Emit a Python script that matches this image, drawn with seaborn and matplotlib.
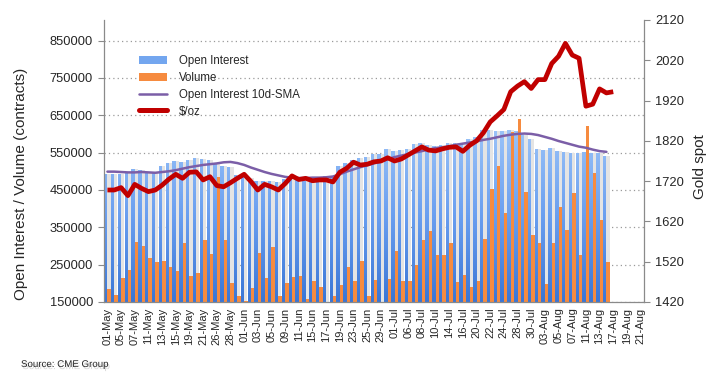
import numpy as np
import pandas as pd
import matplotlib
matplotlib.use("Agg")
import matplotlib.pyplot as plt
import seaborn as sns
from matplotlib.path import Path
from matplotlib.patches import Patch, Rectangle
from matplotlib.lines import Line2D
from matplotlib.colors import LinearSegmentedColormap
import matplotlib.patheffects as pe

# ---------------- data ----------------
dates = [
    "01-May", "04-May", "05-May", "06-May", "07-May", "08-May", "11-May", "12-May", "13-May", "14-May",
    "15-May", "18-May", "19-May", "20-May", "21-May", "22-May", "26-May", "27-May", "28-May", "29-May",
    "01-Jun", "02-Jun", "03-Jun", "04-Jun", "05-Jun", "08-Jun", "09-Jun", "10-Jun", "11-Jun", "12-Jun",
    "15-Jun", "16-Jun", "17-Jun", "18-Jun", "19-Jun", "22-Jun", "23-Jun", "24-Jun", "25-Jun", "26-Jun",
    "29-Jun", "30-Jun", "01-Jul", "02-Jul", "06-Jul", "07-Jul", "08-Jul", "09-Jul", "10-Jul", "13-Jul",
    "14-Jul", "15-Jul", "16-Jul", "17-Jul", "20-Jul", "21-Jul", "22-Jul", "23-Jul", "24-Jul", "27-Jul",
    "28-Jul", "29-Jul", "30-Jul", "31-Jul", "03-Aug", "04-Aug", "05-Aug", "06-Aug", "07-Aug", "10-Aug",
    "11-Aug", "12-Aug", "13-Aug", "14-Aug", "17-Aug", "18-Aug", "19-Aug", "20-Aug", "21-Aug",
]

open_interest = [
    494000, 493000, 493000, 495000, 506000, 504000, 497000, 497000, 513000, 522000,
    528000, 526000, 530000, 536000, 533000, 530000, 519000, 513000, 511000, 491000,
    488000, 482000, 475000, 473000, 473000, 471000, 479000, 479000, 477000, 475000,
    477000, 486000, 488000, 484000, 514000, 522000, 529000, 536000, 538000, 546000,
    546000, 559000, 554000, 556000, 559000, 572000, 576000, 570000, 567000, 569000,
    577000, 577000, 577000, 586000, 591000, 611000, 611000, 608000, 608000, 611000,
    608000, 597000, 586000, 560000, 557000, 563000, 555000, 552000, 548000, 549000,
    551000, 548000, 548000, 541000,
]

volume = [
    184000, 169000, 214000, 235000, 310000, 300000, 267000, 257000, 259000, 244000,
    232000, 308000, 220000, 227000, 316000, 278000, 486000, 316000, 200000, 166000,
    154000, 187000, 281000, 214000, 297000, 166000, 201000, 216000, 220000, 159000,
    205000, 189000, 145000, 165000, 196000, 243000, 205000, 259000, 165000, 210000,
    145000, 212000, 287000, 205000, 207000, 250000, 316000, 341000, 275000, 275000,
    307000, 203000, 221000, 189000, 205000, 319000, 453000, 515000, 387000, 606000,
    640000, 445000, 330000, 309000, 199000, 307000, 405000, 344000, 442000, 275000,
    621000, 496000, 370000, 258000,
]

oi_sma_10d = [
    499000, 499000, 498000, 497000, 497000, 498000, 497000, 496000, 498000, 500000,
    503000, 507000, 511000, 514000, 517000, 519000, 521000, 524000, 525000, 522000,
    517000, 510000, 504000, 498000, 493000, 489000, 485000, 483000, 482000, 482000,
    483000, 483000, 484000, 486000, 492000, 499000, 505000, 511000, 516000, 521000,
    526000, 532000, 538000, 542000, 546000, 550000, 554000, 558000, 562000, 564000,
    567000, 571000, 574000, 577000, 580000, 584000, 587000, 591000, 595000, 598000,
    600000, 601000, 600000, 597000, 592000, 587000, 581000, 576000, 571000, 566000,
    563000, 558000, 554000, 552000,
]

gold_usd_oz = [
    1698, 1698, 1704, 1684, 1712, 1702, 1694, 1698, 1710, 1725,
    1737, 1727, 1742, 1743, 1723, 1731, 1709, 1706, 1716, 1727,
    1737, 1719, 1698, 1712, 1706, 1698, 1714, 1733, 1724, 1727,
    1721, 1723, 1723, 1718, 1742, 1752, 1767, 1760, 1762, 1768,
    1770, 1778, 1770, 1775, 1785, 1795, 1805, 1797, 1795, 1800,
    1804, 1805, 1794, 1809, 1820, 1840, 1867, 1882, 1898, 1942,
    1956, 1967, 1950, 1972, 1972, 2012, 2030, 2062, 2033, 2025,
    1906, 1911, 1949, 1939, 1942,
]

left_ticks = [150000, 250000, 350000, 450000, 550000, 650000, 750000, 850000]
right_ticks = [1420, 1520, 1620, 1720, 1820, 1920, 2020, 2120]

# ---------------- style ----------------
sns.set_theme(style="white")
plt.rcParams["font.family"] = ["Liberation Sans", "DejaVu Sans"]

C_OI = "#5e95e8"
C_VOL = "#f68b3f"
C_SMA = "#7b5ea7"
C_GOLD = "#c00000"
C_AXIS = "#8a8a8a"

W, H = 721, 382
fig = plt.figure(figsize=(W / 100, H / 100), dpi=100)
ax = fig.add_axes([104 / W, 1 - 302 / H, 540 / W, 282 / H])

n = len(open_interest)
df = pd.DataFrame({
    "date": dates[:n] * 2,
    "value": open_interest + volume,
    "series": ["Open Interest"] * n + ["Volume"] * n,
})
sns.barplot(data=df, x="date", y="value", hue="series", order=dates,
            hue_order=["Open Interest", "Volume"],
            palette={"Open Interest": C_OI, "Volume": C_VOL},
            width=1.0, gap=0, dodge=True, saturation=1, errorbar=None,
            legend=False, ax=ax)

oi_bars = list(ax.containers[0])
vol_bars = list(ax.containers[1])
for b in oi_bars:
    b.set_zorder(1.0)
    b.set_linewidth(0)
for b in vol_bars:
    b.set_zorder(1.3)
    b.set_linewidth(0)

# light shadow column behind each volume bar (height of the OI bar)
for b in oi_bars:
    ax.add_patch(Rectangle((b.get_x() + b.get_width(), 0), b.get_width() * 0.92,
                           b.get_height(), facecolor="#e4e4e4", edgecolor="none",
                           zorder=1.1))

# vertical gradient on open-interest bars
cmap = LinearSegmentedColormap.from_list("oi", ["#3a76d6", "#6a9ff0", "#9cc4f8"])
grad = np.linspace(0, 1, 256).reshape(-1, 1)
clip = Path.make_compound_path(*[Path.unit_rectangle().transformed(b.get_patch_transform())
                                  for b in oi_bars])
im = ax.imshow(grad, extent=[-0.5, 78.5, 150000, 615000], origin="lower",
               cmap=cmap, aspect="auto", zorder=1.05, interpolation="bilinear")
im.set_clip_path(clip, transform=ax.transData)

# 10d SMA
sns.lineplot(x=np.arange(len(oi_sma_10d)), y=oi_sma_10d, ax=ax, color=C_SMA,
             linewidth=1.8, zorder=3)

ax.set_xlim(-0.5, len(dates) - 0.5)
ax.set_ylim(150000, 905000)
ax.set_yticks(left_ticks)
ax.set_yticklabels([str(t) for t in left_ticks], fontsize=9.3)
ax.set_xticks(range(0, len(dates), 2))
ax.set_xticklabels(dates[::2], rotation=90, fontsize=8)
ax.set_xticks(np.arange(-0.5, len(dates), 1), minor=True)
ax.tick_params(axis="x", which="major", length=0, pad=4)
ax.tick_params(axis="x", which="minor", length=4, width=0.8, color=C_AXIS, direction="out")
ax.tick_params(axis="y", length=4, width=0.8, color=C_AXIS, direction="out", pad=4,
               left=True)
ax.set_xlabel("")
ax.set_ylabel("")
ax.set_axisbelow(True)
ax.yaxis.grid(True, linestyle=(0, (1, 2.5)), color="#9a9a9a", linewidth=0.9)
ax.xaxis.grid(False)
for s in ["top", "right"]:
    ax.spines[s].set_visible(False)
for s in ["left", "bottom"]:
    ax.spines[s].set_color(C_AXIS)
    ax.spines[s].set_linewidth(0.9)

# gold on secondary axis
ax2 = ax.twinx()
sns.lineplot(x=np.arange(len(gold_usd_oz)), y=gold_usd_oz, ax=ax2, color=C_GOLD,
             linewidth=3.4, zorder=4)
for l in ax2.lines:
    l.set_solid_joinstyle("round")
    l.set_solid_capstyle("butt")
ax2.set_ylim(1420, 2120)
ax2.set_yticks(right_ticks)
ax2.set_yticklabels([str(t) for t in right_ticks], fontsize=9.3)
ax2.tick_params(axis="y", length=4, width=0.8, color=C_AXIS, direction="out", pad=4,
                right=True)
ax2.set_ylabel("")
ax2.set_xlim(-0.5, len(dates) - 0.5)
for s in ["top", "left", "bottom"]:
    ax2.spines[s].set_visible(False)
ax2.spines["right"].set_color(C_AXIS)
ax2.spines["right"].set_linewidth(0.9)
ax2.grid(False)

# axis titles
fig.text(21.5 / W, 1 - 184 / H, "Open Interest / Volume (contracts)", rotation=90,
         ha="center", va="center", fontsize=11)
fig.text(700 / W, 1 - 167 / H, "Gold spot", rotation=90, ha="center", va="center",
         fontsize=11)

# legend
handles = [
    Patch(facecolor="#73a6ef", edgecolor="none"),
    Patch(facecolor=C_VOL, edgecolor="none"),
    Line2D([0], [0], color=C_SMA, linewidth=1.8),
    Line2D([0], [0], color=C_GOLD, linewidth=3.6),
]
labels = ["Open Interest", "Volume", "Open Interest 10d-SMA", "$/oz"]
fig.legend(handles, labels, loc="upper left", bbox_to_anchor=(139 / W, 1 - 55 / H),
           frameon=False, fontsize=8.3, borderpad=0, borderaxespad=0,
           handlelength=2.45, handletextpad=1.0, labelspacing=0.42)

src = fig.text(21 / W, 1 - 364 / H, "Source: CME Group", fontsize=7, ha="left", va="center")
src.set_path_effects([pe.withSimplePatchShadow(offset=(1, -1.5), shadow_rgbFace="#bbbbbb",
                                               alpha=0.6)])

fig.savefig("out.png", dpi=100)
